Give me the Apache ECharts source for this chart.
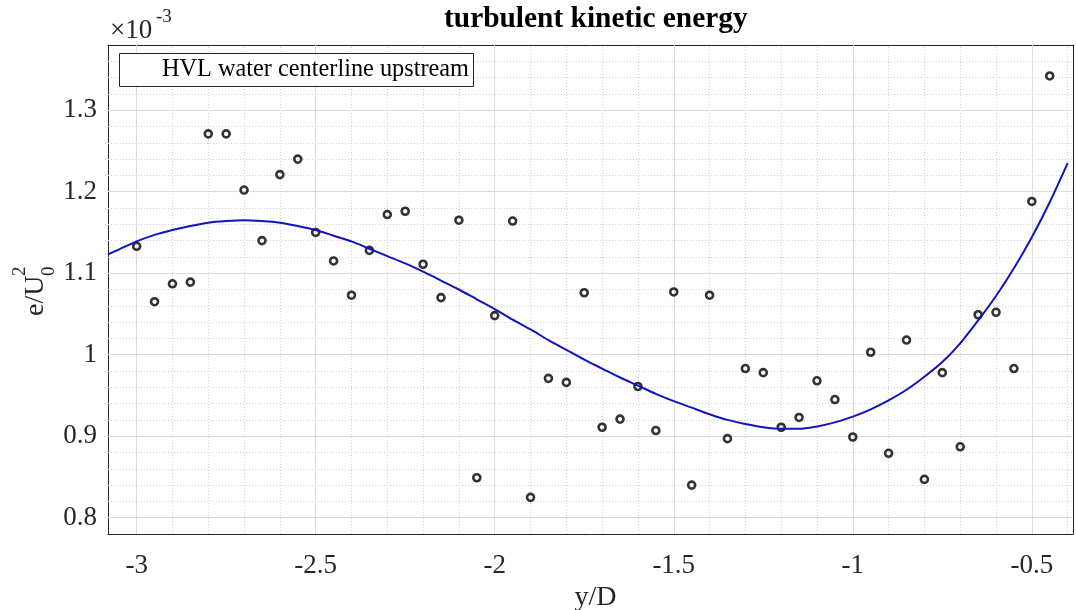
<!DOCTYPE html>
<html><head><meta charset="utf-8">
<script src="https://cdn.jsdelivr.net/npm/echarts@6/dist/echarts.min.js"></script>
<style>html,body{margin:0;padding:0;background:#fff}#c{width:1076px;height:610px}</style>
</head><body><div id="c"></div>
<script>
// ---- data (values in units of 1e-3) ----
const xValues = [-3.00,-2.95,-2.90,-2.85,-2.80,-2.75,-2.70,-2.65,-2.60,-2.55,-2.50,-2.45,-2.40,-2.35,-2.30,-2.25,-2.20,-2.15,-2.10,-2.05,-2.00,-1.95,-1.90,-1.85,-1.80,-1.75,-1.70,-1.65,-1.60,-1.55,-1.50,-1.45,-1.40,-1.35,-1.30,-1.25,-1.20,-1.15,-1.10,-1.05,-1.00,-0.95,-0.90,-0.85,-0.80,-0.75,-0.70,-0.65,-0.60,-0.55,-0.50,-0.45];
const yValues = [1.133,1.065,1.087,1.089,1.271,1.271,1.202,1.140,1.221,1.240,1.150,1.115,1.073,1.128,1.172,1.176,1.111,1.070,1.165,0.849,1.048,1.164,0.825,0.971,0.966,1.076,0.911,0.921,0.961,0.907,1.077,0.840,1.073,0.897,0.983,0.978,0.911,0.923,0.968,0.945,0.899,1.003,0.879,1.018,0.847,0.978,0.887,1.049,1.052,0.983,1.188,1.342];
// fitted curve
const fitX = [-3.08,-3.05,-3.00,-2.95,-2.90,-2.85,-2.80,-2.75,-2.70,-2.65,-2.60,-2.55,-2.50,-2.45,-2.40,-2.35,-2.30,-2.25,-2.20,-2.15,-2.10,-2.05,-2.00,-1.95,-1.90,-1.85,-1.80,-1.75,-1.70,-1.65,-1.60,-1.55,-1.50,-1.45,-1.40,-1.35,-1.30,-1.25,-1.20,-1.15,-1.10,-1.05,-1.00,-0.95,-0.90,-0.85,-0.80,-0.75,-0.70,-0.65,-0.60,-0.55,-0.50,-0.45,-0.40];
const fitY = [1.123,1.129,1.139,1.147,1.153,1.158,1.162,1.164,1.165,1.164,1.162,1.158,1.153,1.146,1.139,1.130,1.121,1.112,1.102,1.091,1.080,1.068,1.056,1.043,1.031,1.018,1.006,0.994,0.983,0.972,0.962,0.952,0.943,0.935,0.927,0.920,0.915,0.911,0.909,0.909,0.912,0.917,0.924,0.933,0.944,0.957,0.973,0.991,1.014,1.042,1.072,1.106,1.144,1.187,1.235];
const xMajorTicks = [-3,-2.5,-2,-1.5,-1,-0.5];
const xMinorTicks = [-2.9,-2.8,-2.7,-2.6,-2.4,-2.3,-2.2,-2.1,-1.9,-1.8,-1.7,-1.6,-1.4,-1.3,-1.2,-1.1,-0.9,-0.8,-0.7,-0.6,-0.4];
const yMajorTicks = [0.8,0.9,1,1.1,1.2,1.3];
const yMinorTicks = [0.82,0.84,0.86,0.88,0.92,0.94,0.96,0.98,1.02,1.04,1.06,1.08,1.12,1.14,1.16,1.18,1.22,1.24,1.26,1.28,1.32,1.34,1.36];
const xRange = [-3.08, -0.385];
const yRange = [0.78, 1.38];
const titleText = 'turbulent kinetic energy';
const legendText = 'HVL water centerline upstream';
const xName = 'y/D';

const FONT = '"Liberation Serif", "Times New Roman", serif';
const AX = '#262626';
const majorStyle = {color:'#dcdcdc', width:1, type:'solid'};
const minorStyle = {color:'#d0d0d0', width:1, type:[1,2]};

const gridLines = []
  .concat(xMinorTicks.map(v => ({xAxis:v, lineStyle:minorStyle})))
  .concat(yMinorTicks.map(v => ({yAxis:v, lineStyle:minorStyle})))
  .concat(xMajorTicks.map(v => ({xAxis:v, lineStyle:majorStyle})))
  .concat(yMajorTicks.map(v => ({yAxis:v, lineStyle:majorStyle})));

function axisBase(pos, isX, showLabel){
  return {
    type:'value', position:pos,
    min: isX ? xRange[0] : yRange[0],
    max: isX ? xRange[1] : yRange[1],
    axisLine:{show:true, onZero:false, lineStyle:{color:AX, width:1}},
    axisTick:{show:true, inside:true, length:8, lineStyle:{color:AX, width:1}, customValues: isX ? xMajorTicks : yMajorTicks},
    axisLabel:{show:showLabel, customValues: isX ? xMajorTicks : yMajorTicks, fontFamily:FONT, fontSize:27, color:AX, margin: isX ? 18 : 11},
    splitLine:{show:false}, minorTick:{show:false}, minorSplitLine:{show:false}
  };
}

const chart = echarts.init(document.getElementById('c'), null, {renderer:'canvas'});
const xb = axisBase('bottom', true, true);
xb.name = xName; xb.nameLocation = 'middle'; xb.nameGap = 43;
xb.nameTextStyle = {fontFamily:FONT, fontSize:28, color:AX, padding:[0,0,0,10]};
chart.setOption({
  animation:false,
  backgroundColor:'#fff',
  title:{text:titleText, left:444, top:5, padding:0,
    textStyle:{fontFamily:FONT, fontWeight:'bold', fontSize:29.4, color:'#000'}},
  grid:{left:108, right:3, top:45, bottom:76, show:true, backgroundColor:'#fff', borderWidth:0,
        containLabel:false, outerBoundsMode:'none'},
  xAxis:[xb, axisBase('top', true, false)],
  yAxis:[axisBase('left', false, true), axisBase('right', false, false)],
  series:[
    {type:'scatter', name:legendText, z:2, symbol:'circle', symbolSize:7,
     itemStyle:{color:'rgba(255,255,255,0)', borderColor:'#000', borderWidth:2.6},
     data:xValues.map((x,i)=>[x,yValues[i]])},
    {type:'line', z:3, smooth:0.3, showSymbol:false, symbol:'none',
     lineStyle:{color:'#1212c0', width:2},
     data:fitX.map((x,i)=>[x,fitY[i]]),
     markLine:{z:1, silent:true, symbol:['none','none'], label:{show:false}, animation:false, data:gridLines}}
  ],
  graphic:[
    {type:'rect', z:50, shape:{x:119.5, y:53.5, width:354, height:33},
     style:{fill:'#fff', stroke:AX, lineWidth:1}},
    {type:'text', z:51, x:162, y:70, style:{text:legendText, fontFamily:FONT, fontSize:24.3, fill:'#000', verticalAlign:'middle', align:'left'}},
    {type:'text', z:51, x:110, y:31, style:{text:'\u00d710', fontFamily:FONT, fontSize:27, fill:AX, verticalAlign:'middle', align:'left'}},
    {type:'text', z:51, x:156, y:17, style:{text:'-3', fontFamily:FONT, fontSize:19, fill:AX, verticalAlign:'middle', align:'left'}},
    {type:'group', z:51, x:36, y:290, rotation:Math.PI/2, children:[
      {type:'text', x:-26, y:0, style:{text:'e/U', fontFamily:FONT, fontSize:28, fill:AX, verticalAlign:'middle', align:'left'}},
      {type:'text', x:14, y:-16, style:{text:'2', fontFamily:FONT, fontSize:19, fill:AX, verticalAlign:'middle', align:'left'}},
      {type:'text', x:14, y:13, style:{text:'0', fontFamily:FONT, fontSize:19, fill:AX, verticalAlign:'middle', align:'left'}}
    ]}
  ]
});
</script>
</body></html>
